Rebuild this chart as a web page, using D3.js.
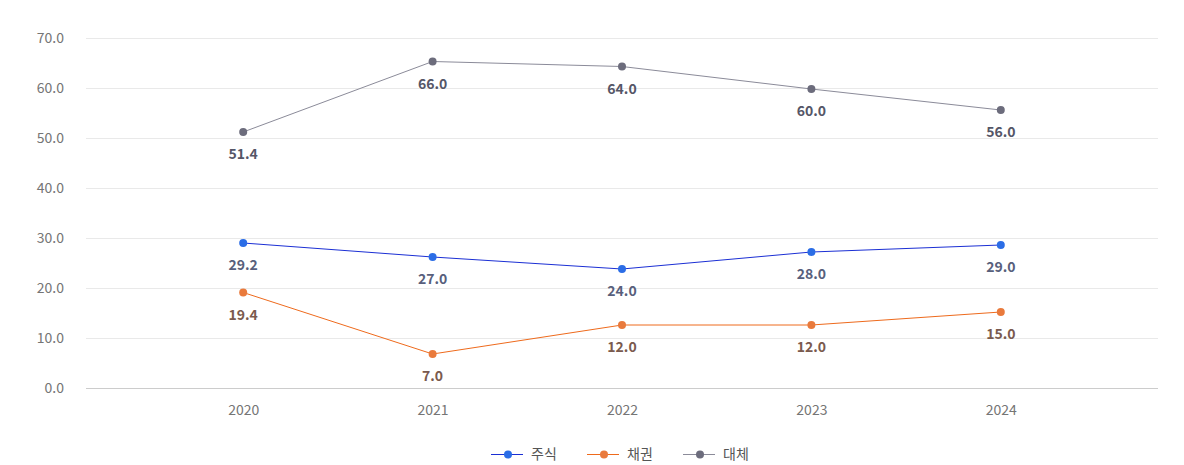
<!DOCTYPE html>
<html>
<head>
<meta charset="utf-8">
<script src="https://cdn.jsdelivr.net/npm/d3@7"></script>
<style>
  body { margin:0; background:#fff; }
  svg text { font-family:"Noto Sans CJK KR","Noto Sans",sans-serif; }
</style>
</head>
<body>
<div id="plot"></div>
<script>
// data
var years = ['2020','2021','2022','2023','2024'];
var yTicks = [0,10,20,30,40,50,60,70];
var seriesNames = ['주식','채권','대체'];
// where the points sit
var stockVals = [29.0, 26.2, 23.8, 27.2, 28.6];
var bondVals  = [19.1, 6.8, 12.6, 12.6, 15.2];
var altVals   = [51.2, 65.3, 64.3, 59.8, 55.6];
// what the point labels say
var stockLabels = ['29.2','27.0','24.0','28.0','29.0'];
var bondLabels  = ['19.4','7.0','12.0','12.0','15.0'];
var altLabels   = ['51.4','66.0','64.0','60.0','56.0'];

var W = 1184, H = 465;
var margin = {t:38, r:26, b:77, l:86};

var svg = d3.select('#plot').append('svg')
  .attr('width', W).attr('height', H);

var x = d3.scalePoint().domain(years).range([margin.l, W-margin.r]).padding(0.83);
var y = d3.scaleLinear().domain([0,70]).range([H-margin.b, margin.t]);

// grid
svg.append('g').selectAll('line').data(yTicks).enter().append('line')
  .attr('x1', margin.l).attr('x2', W-margin.r)
  .attr('y1', function(d){ return y(d)+0.5; })
  .attr('y2', function(d){ return y(d)+0.5; })
  .style('stroke', function(d){ return d==0 ? '#cccccc' : '#e9e9e9'; })
  .style('stroke-width', 1);

// y axis labels
var yAxis = d3.axisLeft(y).tickValues(yTicks).tickFormat(d3.format('.1f')).tickSize(0).tickPadding(0);
var gy = svg.append('g').attr('transform','translate(64,0)').call(yAxis);
gy.select('.domain').remove();
gy.selectAll('text').style('font-size','14px').style('fill','#757575').attr('dy','0.35em');

// x axis labels
var xAxis = d3.axisBottom(x).tickSize(0).tickPadding(0);
var gx = svg.append('g').attr('transform','translate(0,'+(H-margin.b+17)+')').call(xAxis);
gx.select('.domain').remove();
gx.selectAll('text').style('font-size','14px').style('fill','#757575');

var series = [
  {name:seriesNames[0], vals:stockVals, labels:stockLabels, line:'#1b2fd4', dot:'#2b6de6', text:'#585f7c'},
  {name:seriesNames[1], vals:bondVals,  labels:bondLabels,  line:'#ee6a1c', dot:'#e97a3c', text:'#7a5a4e'},
  {name:seriesNames[2], vals:altVals,   labels:altLabels,   line:'#8b8b99', dot:'#6c6c7c', text:'#555667'}
];

var line = d3.line()
  .x(function(d,i){ return x(years[i]); })
  .y(function(d){ return y(d); });

series.forEach(function(s){
  var g = svg.append('g');
  g.append('path').datum(s.vals).attr('d', line)
    .style('fill','none').style('stroke', s.line).style('stroke-width', 1);
  g.selectAll('circle').data(s.vals).enter().append('circle')
    .attr('cx', function(d,i){ return x(years[i]); })
    .attr('cy', function(d){ return y(d); })
    .attr('r', 4)
    .style('fill', s.dot);
  g.selectAll('text').data(s.vals).enter().append('text')
    .attr('x', function(d,i){ return x(years[i]); })
    .attr('y', function(d){ return y(d)+27; })
    .attr('text-anchor','middle')
    .style('font-size','14px').style('font-weight','bold')
    .style('fill', s.text)
    .text(function(d,i){ return s.labels[i]; });
});

// legend
var legendX = [491, 587, 683];
var lg = svg.append('g').attr('transform','translate(0,454)');
series.forEach(function(s,i){
  var item = lg.append('g').attr('transform','translate('+legendX[i]+',0)');
  item.append('line').attr('x1',0).attr('x2',32).attr('y1',0.5).attr('y2',0.5)
    .style('stroke', s.line).style('stroke-width',1);
  item.append('circle').attr('cx',17).attr('cy',0.5).attr('r',4).style('fill', s.dot);
  item.append('text').attr('x',40).attr('y',0).attr('dy','0.35em')
    .style('font-size','14px').style('fill','#555555').text(s.name);
});
</script>
</body>
</html>
